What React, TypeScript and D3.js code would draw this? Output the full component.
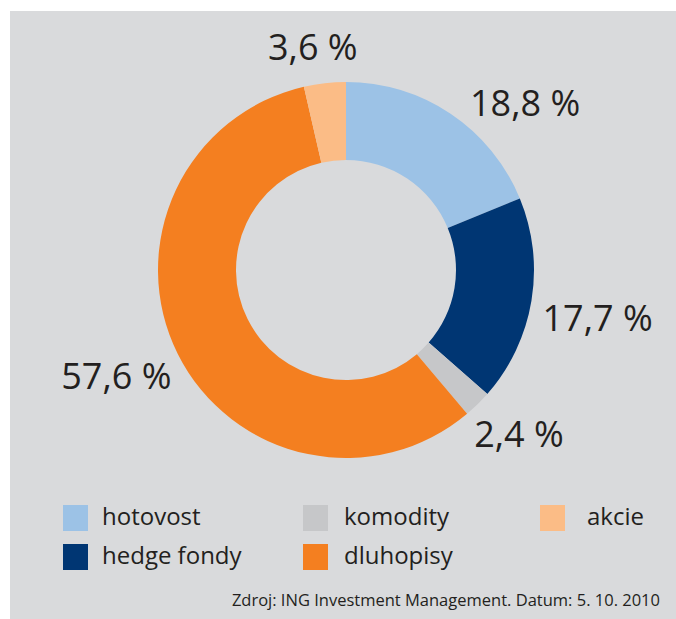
import { useEffect, useRef } from "react";
import * as d3 from "d3";

const categories = ["hotovost", "hedge fondy", "komodity", "dluhopisy", "akcie"];
const shares = [18.8, 17.7, 2.4, 57.6, 3.6];
const sliceLabels = ["18,8 %", "17,7 %", "2,4 %", "57,6 %", "3,6 %"];
const colors = ["#9cc2e6", "#003673", "#c6c7c9", "#f47f20", "#fbbc86"];
// legend order as in the original (row by row)
const legendOrder = ["hotovost", "komodity", "akcie", "hedge fondy", "dluhopisy"];
const sourceText = "Zdroj: ING Investment Management. Datum: 5. 10. 2010";

const W = 676;
const H = 619;
const FONT = "'Open Sans', 'Noto Sans', sans-serif";

// small hand nudges so labels sit where the original put them
const labelNudge: [number, number][] = [
  [40, 40],
  [5, 6],
  [-2, -15],
  [-6, -6],
  [-5, 25],
];

const App: React.FC = () => {
  const svgRef = useRef<SVGSVGElement | null>(null);

  useEffect(() => {
    if (!svgRef.current) return;
    const svg = d3.select(svgRef.current);
    svg.selectAll("*").remove();

    svg
      .append("rect")
      .attr("x", 10)
      .attr("y", 11)
      .attr("width", W - 10)
      .attr("height", H - 11)
      .attr("fill", "#d9dadc");

    const cx = 346;
    const cy = 270;
    const outer = 188;
    const inner = 110;

    const data = categories.map((c, i) => ({ name: c, value: shares[i], i }));

    const pie = d3
      .pie<{ name: string; value: number; i: number }>()
      .sort(null)
      .value((d) => d.value);

    const arcs = pie(data);

    const arc = d3
      .arc<d3.PieArcDatum<{ name: string; value: number; i: number }>>()
      .innerRadius(inner)
      .outerRadius(outer);

    const labelArc = d3
      .arc<d3.PieArcDatum<{ name: string; value: number; i: number }>>()
      .innerRadius(250)
      .outerRadius(250);

    const g = svg.append("g").attr("transform", `translate(${cx},${cy})`);

    g.selectAll("path")
      .data(arcs)
      .enter()
      .append("path")
      .attr("d", arc)
      .attr("fill", (d) => colors[d.data.i]);

    g.selectAll("text.lbl")
      .data(arcs)
      .enter()
      .append("text")
      .attr("class", "lbl")
      .attr("transform", (d) => {
        const [x, y] = labelArc.centroid(d);
        const [nx, ny] = labelNudge[d.data.i];
        return `translate(${x + nx},${y + ny})`;
      })
      .attr("text-anchor", "middle")
      .attr("dominant-baseline", "central")
      .attr("font-family", FONT)
      .attr("font-size", 36)
      .attr("fill", "#231f20")
      .text((d) => sliceLabels[d.data.i]);

    // legend
    const colX = d3.scaleOrdinal<number, number>().domain([0, 1, 2]).range([63, 303, 540]);
    const rowY = d3.scaleOrdinal<number, number>().domain([0, 1]).range([505, 544]);
    const textX = [102, 344, 587];

    const leg = svg
      .append("g")
      .selectAll("g")
      .data(legendOrder)
      .enter()
      .append("g")
      .attr("transform", (d, k) => `translate(${colX(k % 3)},${rowY(Math.floor(k / 3))})`);

    leg
      .append("rect")
      .attr("width", 25)
      .attr("height", 26)
      .attr("fill", (d) => colors[categories.indexOf(d)]);

    leg
      .append("text")
      .attr("x", (d, k) => textX[k % 3] - colX(k % 3))
      .attr("y", 20)
      .attr("font-family", FONT)
      .attr("font-size", 24)
      .attr("fill", "#231f20")
      .text((d) => d);

    svg
      .append("text")
      .attr("x", 660)
      .attr("y", 606)
      .attr("text-anchor", "end")
      .attr("font-family", FONT)
      .attr("font-size", 16.5)
      .attr("fill", "#231f20")
      .text(sourceText);
  }, []);

  return (
    <svg
      ref={svgRef}
      width={W}
      height={H}
      style={{ position: "absolute", left: 0, top: 0, background: "#fff" }}
    ></svg>
  );
};

export default App;
